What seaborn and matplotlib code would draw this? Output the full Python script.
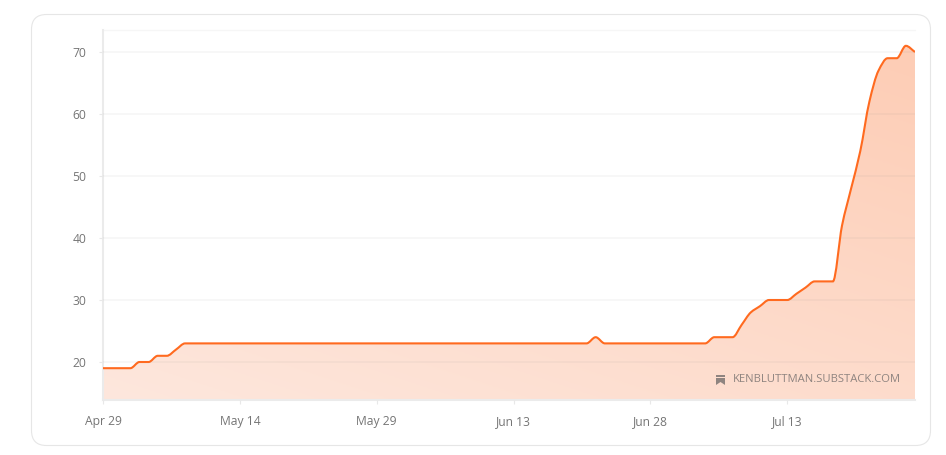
import matplotlib
matplotlib.use('Agg')
import matplotlib.pyplot as plt
import matplotlib.dates as mdates
from matplotlib.patches import FancyBboxPatch, Polygon, PathPatch, Rectangle
from matplotlib.path import Path
import numpy as np
import pandas as pd
import seaborn as sns

start_date = '2024-04-29'
values = [
    19, 19, 19, 19, 20, 20, 21, 21, 22, 23,
    23, 23, 23, 23, 23, 23, 23, 23, 23, 23,
    23, 23, 23, 23, 23, 23, 23, 23, 23, 23,
    23, 23, 23, 23, 23, 23, 23, 23, 23, 23,
    23, 23, 23, 23, 23, 23, 23, 23, 23, 23,
    23, 23, 23, 23, 24, 23, 23, 23, 23, 23,
    23, 23, 23, 23, 23, 23, 23, 24, 24, 24,
    26, 28, 29, 30, 30, 30, 31, 32, 33, 33,
    33, 42, 48, 54, 62, 67, 69, 69, 71, 70,
]
y_ticks = [20, 30, 40, 50, 60, 70]
x_tick_labels = ['Apr 29', 'May 14', 'May 29', 'Jun 13', 'Jun 28', 'Jul 13']
watermark = 'KENBLUTTMAN.SUBSTACK.COM'

LINE = '#ff6a1f'
TEXT = '#757575'
W, H = 946, 455


def monotone_curve(x, y):
    # bezier path through the points, flat where the values stop moving
    d = np.diff(y) / np.diff(x)
    m = np.zeros(len(y))
    for i in range(1, len(y) - 1):
        if d[i - 1] * d[i] > 0:
            m[i] = 2 * d[i - 1] * d[i] / (d[i - 1] + d[i])
    m[0], m[-1] = d[0], d[-1]
    verts = [(x[0], y[0])]
    for i in range(len(y) - 1):
        h = (x[i + 1] - x[i]) / 3
        verts += [(x[i] + h, y[i] + m[i] * h), (x[i + 1] - h, y[i + 1] - m[i + 1] * h),
                  (x[i + 1], y[i + 1])]
    return verts


dates = pd.date_range(start_date, periods=len(values), freq='D')
df = pd.DataFrame({'date': dates, 'value': values})

sns.set_theme(style='white')
plt.rcParams['font.family'] = ['Open Sans', 'DejaVu Sans']

fig = plt.figure(figsize=(W / 100, H / 100), dpi=100)

# rounded card behind the chart
card = FancyBboxPatch((31.5, H - 445.5), 899, 431, transform=None,
                      boxstyle='round,pad=0,rounding_size=15',
                      facecolor='white', edgecolor='#e6e6e6', linewidth=0.8, zorder=-1)
fig.patches.append(card)

ax = fig.add_axes([103 / W, (H - 400) / H, 812 / W, 370 / H])
ax.patch.set_alpha(0)

sns.lineplot(data=df, x='date', y='value', ax=ax, color=LINE, linewidth=1.5, zorder=4)

# swap seaborn's straight segments for the same points joined with curves
seaborn_line = ax.lines[0]
x_num, y_val = seaborn_line.get_xydata().T
seaborn_line.set_visible(False)
curve = monotone_curve(x_num, y_val)
codes = [Path.MOVETO] + [Path.CURVE4] * (len(curve) - 1)
ax.add_patch(PathPatch(Path(curve, codes), facecolor='none', edgecolor=LINE,
                       linewidth=1.5, zorder=4, capstyle='butt'))

# diagonal gradient fill under the line
yl = (13.87, 73.55)
gx, gy = np.meshgrid(np.linspace(0, 1, 200), np.linspace(0, 1, 200))
t = np.clip(0.42 * gx + 0.58 * gy, 0, 1)
light = np.array([254, 231, 221]) / 255
dark = np.array([253, 204, 180]) / 255
img = light[None, None, :] + (dark - light)[None, None, :] * t[:, :, None]
im = ax.imshow(img, origin='lower', extent=[x_num[0], x_num[-1], yl[0], yl[1]],
               aspect='auto', zorder=1)
clip = PathPatch(Path(curve + [(x_num[-1], yl[0]), (x_num[0], yl[0]), (x_num[0], yl[0])],
                      codes + [Path.LINETO, Path.LINETO, Path.CLOSEPOLY]),
                 transform=ax.transData, facecolor='none', edgecolor='none')
ax.add_patch(clip)
im.set_clip_path(clip)

ax.set_xlim(x_num[0], x_num[-1])
ax.set_ylim(*yl)
ax.set_yticks(y_ticks)
ax.set_xticks(x_num[::15][:len(x_tick_labels)])
ax.set_xticklabels(x_tick_labels)
ax.set_xlabel('')
ax.set_ylabel('')
ax.grid(axis='y', color='#7a7a7a', alpha=0.07, linewidth=1.1, zorder=2)
ax.axhline(yl[1], color='#f6f6f6', linewidth=1, zorder=0, clip_on=False)
ax.set_axisbelow(False)
ax.tick_params(axis='both', length=3, width=0.8, color='#e8e8e8', labelcolor=TEXT,
               labelsize=8.7, left=True, bottom=True)
ax.tick_params(axis='y', pad=9)
ax.tick_params(axis='x', pad=8)
sns.despine(ax=ax, top=True, right=True)
for side in ['left', 'bottom']:
    ax.spines[side].set_color('#ebebeb')
    ax.spines[side].set_linewidth(1.5)

# watermark: bookmark icon + site name
fig.text(733 / W, (H - 380) / H, watermark, color='#8f8480', fontsize=8.1,
         va='center', ha='left')
icon = Polygon([(716, H - 378), (716, H - 385), (720.5, H - 382), (725, H - 385),
                (725, H - 378)], closed=True, transform=None,
               facecolor='#8f8480', edgecolor='none')
fig.patches.append(icon)
band = Rectangle((716, H - 377), 9, 2, transform=None, facecolor='#8f8480', edgecolor='none')
fig.patches.append(band)

fig.savefig('out.png', dpi=100)
